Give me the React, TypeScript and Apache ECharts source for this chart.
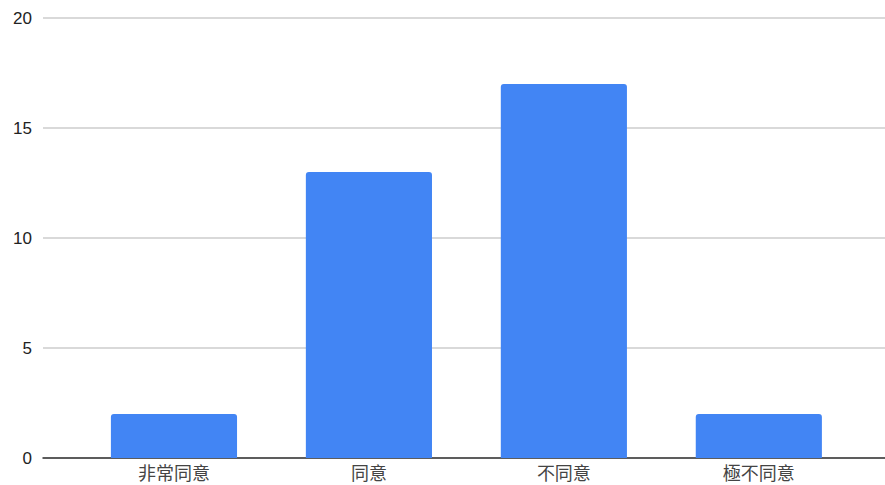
import React, { useEffect, useRef } from "react";
import * as echarts from "echarts";

const categories = ["非常同意", "同意", "不同意", "極不同意"];
const values = [2, 13, 17, 2];
const yTicks = { min: 0, max: 20, interval: 5 };

export default function App() {
  const ref = useRef<HTMLDivElement>(null);
  useEffect(() => {
    if (!ref.current) return;
    const chart = echarts.init(ref.current, undefined, { renderer: "svg" });
    const font = "'Liberation Sans', Arial, 'Noto Sans CJK TC', sans-serif";
    chart.setOption({
      animation: false,
      backgroundColor: "#ffffff",
      grid: [
        { left: 43, right: 0, top: 18, bottom: 27, containLabel: false },
        { left: 76.5, right: 28.7, top: 18, bottom: 27, containLabel: false },
      ],
      xAxis: [
        {
          gridIndex: 0,
          type: "category",
          data: categories,
          axisLine: { show: true, lineStyle: { color: "#333333", width: 1.5 } },
          axisTick: { show: false },
          axisLabel: { show: false },
          splitLine: { show: false },
        },
        {
          gridIndex: 1,
          type: "category",
          data: categories,
          axisLine: { show: false },
          axisTick: { show: false },
          axisLabel: {
            show: true,
            color: "#444444",
            fontSize: 18,
            fontFamily: font,
            margin: 7,
          },
        },
      ],
      yAxis: [
        {
          gridIndex: 0,
          type: "value",
          min: yTicks.min,
          max: yTicks.max,
          interval: yTicks.interval,
          axisLine: { show: false },
          axisTick: { show: false },
          axisLabel: {
            color: "#222222",
            fontSize: 17,
            fontFamily: font,
            margin: 11,
          },
          splitLine: { show: true, lineStyle: { color: "#cccccc", width: 1.5 } },
        },
        {
          gridIndex: 1,
          type: "value",
          min: yTicks.min,
          max: yTicks.max,
          interval: yTicks.interval,
          axisLine: { show: false },
          axisTick: { show: false },
          axisLabel: { show: false },
          splitLine: { show: false },
        },
      ],
      series: [
        {
          type: "bar",
          xAxisIndex: 1,
          yAxisIndex: 1,
          data: values,
          barWidth: "64.7%",
          itemStyle: { color: "#4285F4", borderRadius: [3, 3, 0, 0] },
          z: 1,
        },
      ],
    });
    return () => chart.dispose();
  }, []);
  return (
    <div
      ref={ref}
      style={{ position: "fixed", left: 0, top: 0, width: 885, height: 485 }}
    />
  );
}
